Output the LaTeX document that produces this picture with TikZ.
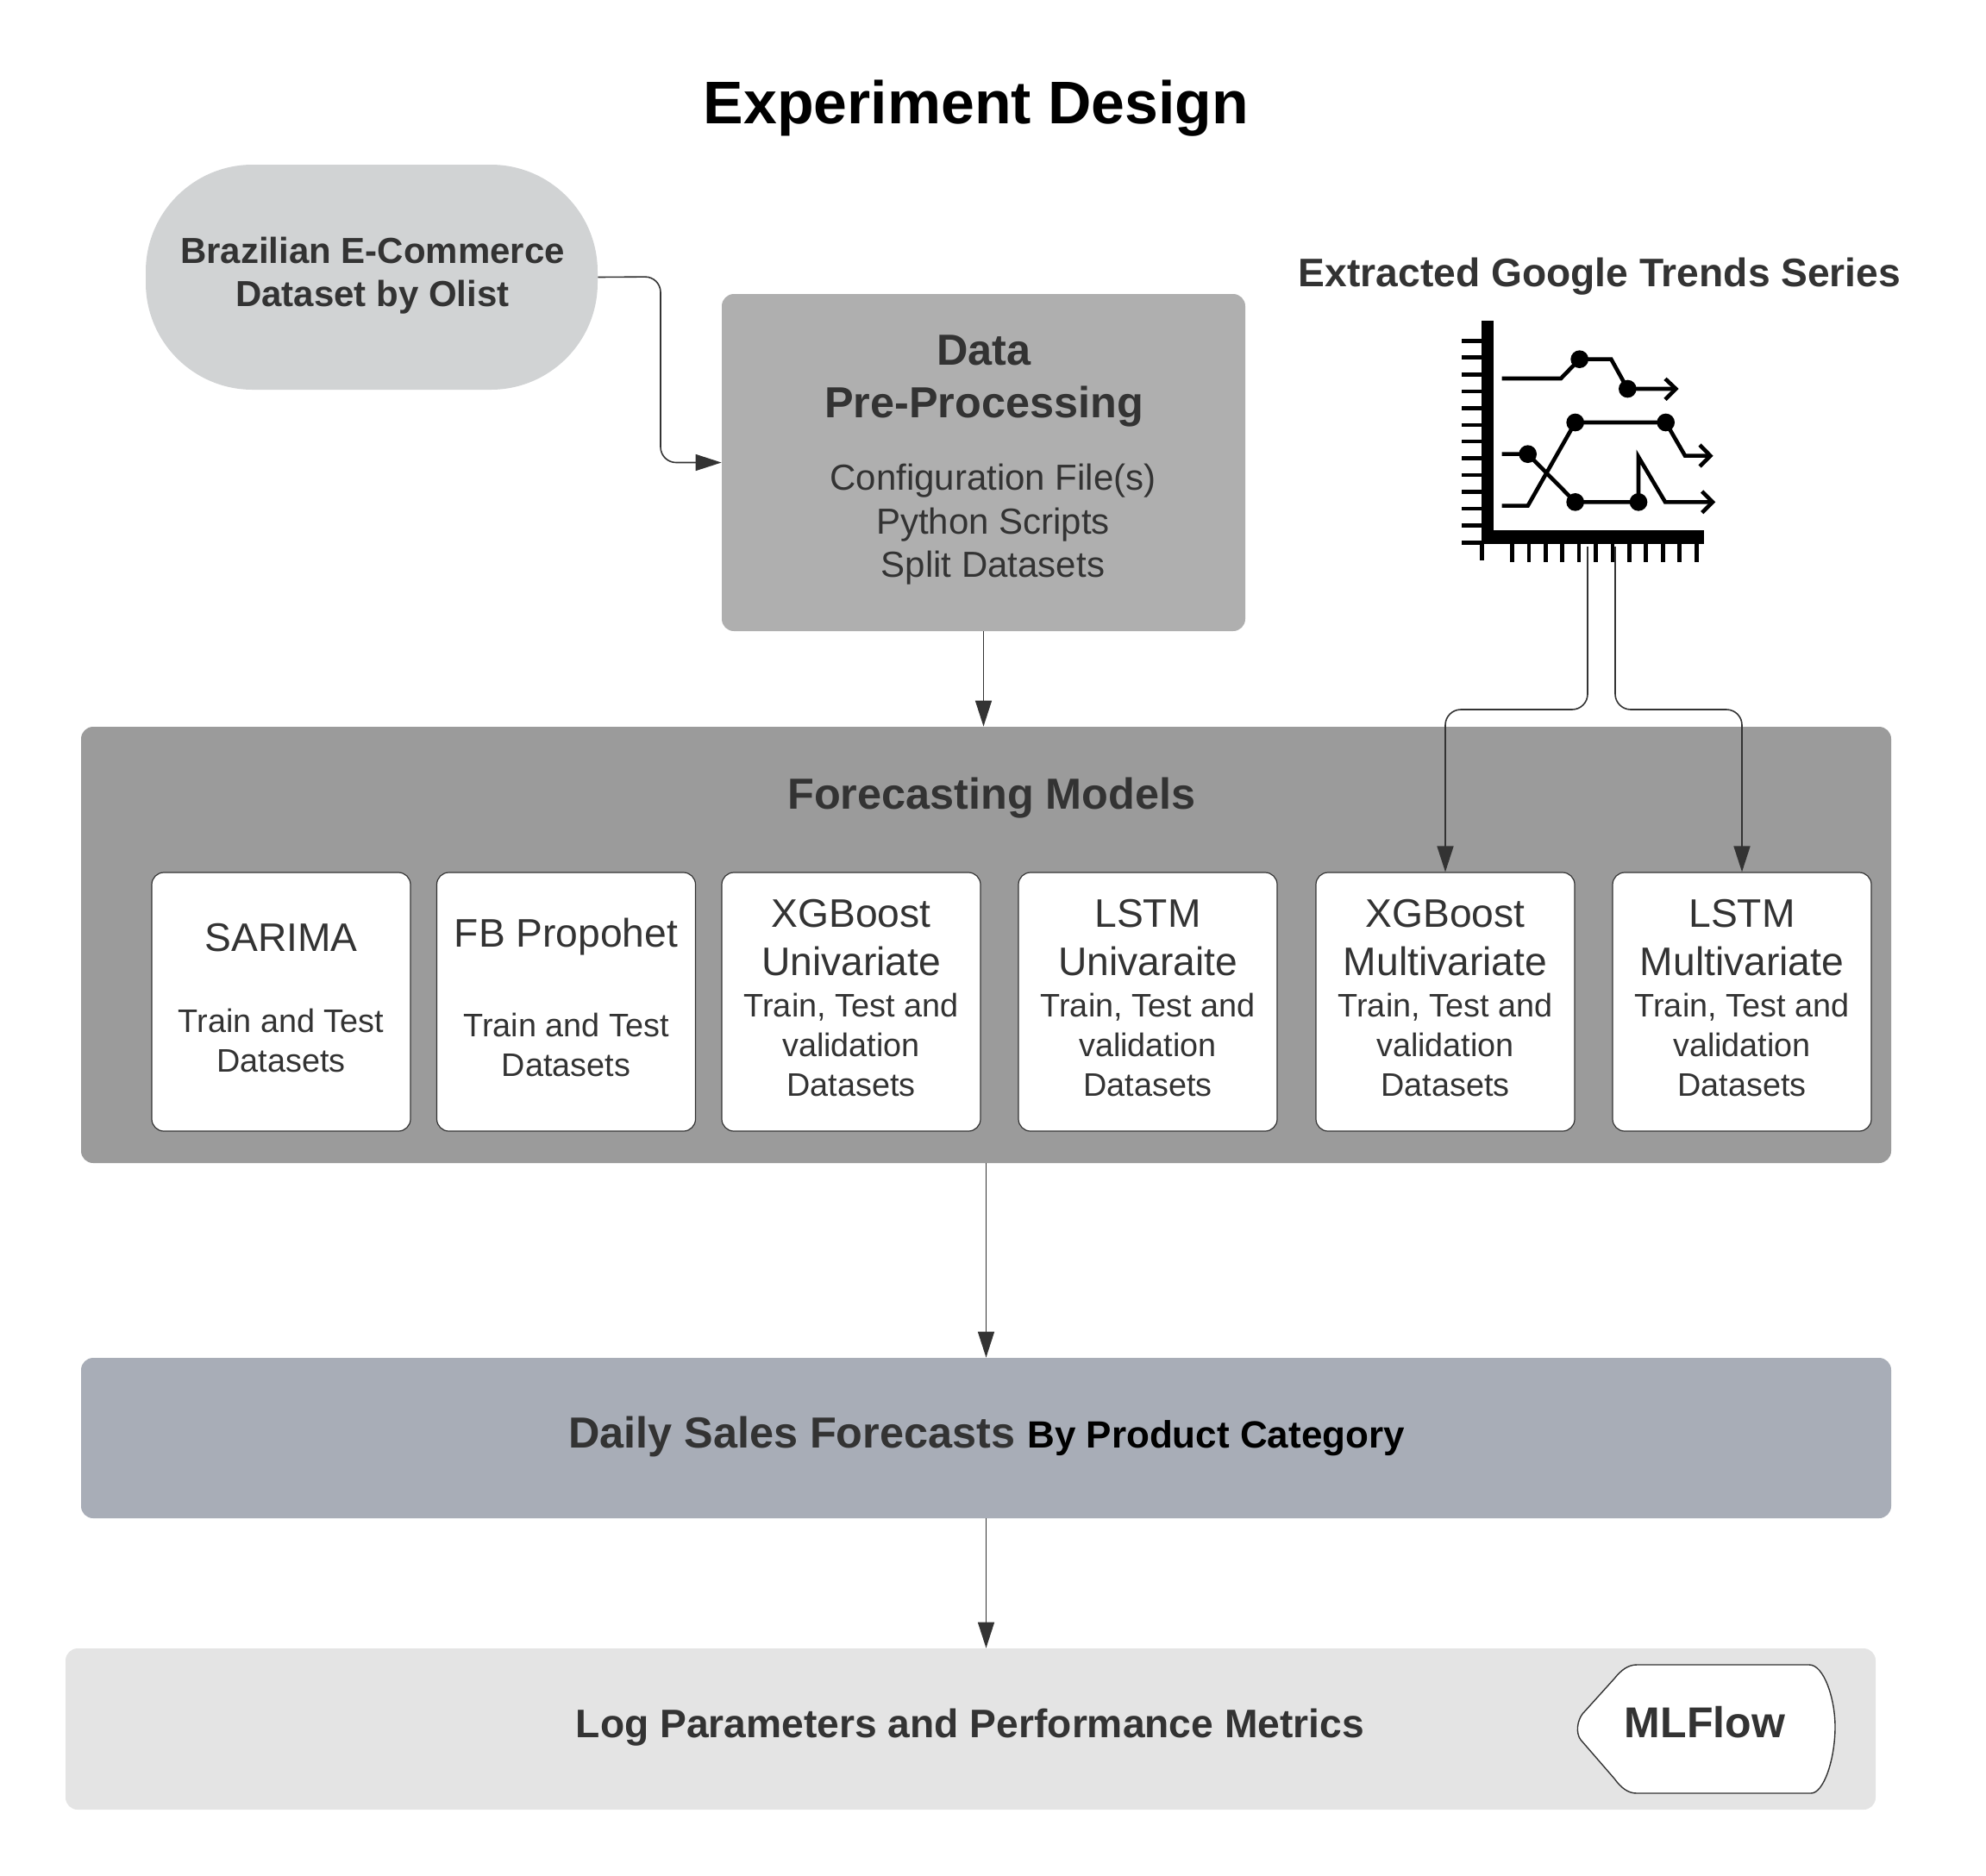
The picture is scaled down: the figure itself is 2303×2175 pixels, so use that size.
\documentclass[tikz,border=0pt]{standalone}
\usepackage{fontspec}
\setmainfont{Liberation Sans}
\usetikzlibrary{arrows.meta}
\definecolor{ink}{HTML}{333333}
\definecolor{pillgray}{HTML}{D1D3D4}
\definecolor{datagray}{HTML}{AFAFAF}
\definecolor{modelgray}{HTML}{9B9B9B}
\definecolor{salesblue}{HTML}{A8ADB7}
\definecolor{loggray}{HTML}{E4E4E4}
\tikzset{
    panel/.style={rectangle, rounded corners=7pt, inner sep=0pt},
    modelbox/.style={rectangle, rounded corners=7pt, draw=ink, line width=0.6pt, fill=white, minimum width=150pt, minimum height=150pt, inner sep=0pt},
    link/.style={draw=ink, line width=0.8pt, rounded corners=9pt, -{Triangle[length=15pt,width=9.5pt]}},
    txt/.style={text=ink, align=center, inner sep=0pt},
    headbig/.style={txt, font=\fontsize{25.2}{30.5}\selectfont\bfseries},
    headmid/.style={txt, font=\fontsize{23.1}{27}\selectfont\bfseries},
    modelname/.style={txt, font=\fontsize{23.1}{28}\selectfont},
    modelsets/.style={txt, font=\fontsize{18.9}{23}\selectfont},
    stroke/.style={line width=2.3pt, black},
}
\begin{document}
\begin{tikzpicture}[x=0.5pt, y=-0.5pt]
    \useasboundingbox (0,0) rectangle (2303,2175);

    \node[inner sep=0pt, font=\fontsize{34.9}{42}\selectfont\bfseries] (title) at (1132,126) {Experiment Design};

    % top row
    \node[panel, rounded corners=62pt, fill=pillgray, minimum width=262pt, minimum height=130.5pt] (olist) at (431,321.5) {};
    \node[txt, font=\fontsize{21}{25}\selectfont\bfseries] (olisttext) at (432,320) {Brazilian E-Commerce\\Dataset by Olist};
    \node[panel, fill=datagray, minimum width=303.5pt, minimum height=195.5pt] (data) at (1140.5,536.5) {};
    \node[headbig] (datahead) at (1141,442) {Data\\Pre-Processing};
    \node[txt, font=\fontsize{21}{25.3}\selectfont] (datatext) at (1151.5,608.5) {Configuration File(s)\\Python Scripts\\Split Datasets};
    \node[headmid] (trendshead) at (1855,320.5) {Extracted Google Trends Series};

    % trends icon
    \begin{scope}[shift={(1650,340)}, x=0.16667pt, y=-0.16667pt]
        \fill[black] (203,95) rectangle (247,872);
        \fill[black] (203,825) rectangle (978,872);
        \foreach \ty in {166,224,283,342,400,459,516,574,633,691,750,808,868}
            \draw[stroke] (135,\ty) -- (203,\ty);
        \draw[stroke] (205,870) -- (205,930);
        \foreach \tx in {310,369,427,485,543,602,660,718,776,835,893,952}
            \draw[stroke] (\tx,870) -- (\tx,935);
        \draw[stroke] (275,297) -- (480,297) -- (545,230) -- (655,230) -- (712,333) -- (880,333);
        \draw[stroke] (843,298) -- (880,333) -- (843,370);
        \draw[stroke] (275,740) -- (365,740) -- (530,450) -- (845,450) -- (912,566) -- (1000,566);
        \draw[stroke] (963,528) -- (1000,566) -- (963,603);
        \draw[stroke] (275,560) -- (365,560) -- (530,727) -- (750,727) -- (750,570) -- (843,727) -- (1008,727);
        \draw[stroke] (971,690) -- (1008,727) -- (971,764);
        \foreach \dx/\dy in {545/230,712/333,530/450,845/450,365/560,530/727,750/727}
            \fill[black] (\dx,\dy) circle (31);
    \end{scope}
    \coordinate (trendsleft) at (1841,634);
    \coordinate (trendsright) at (1873,634);

    % forecasting models
    \node[panel, fill=modelgray, minimum width=1049.5pt, minimum height=253pt] (models) at (1143.5,1096) {};
    \node[headbig] (modelshead) at (1150,926) {Forecasting Models};
    \node[modelbox] (sarima) at (326,1162) {};
    \node[modelbox] (prophet) at (656.5,1162) {};
    \node[modelbox] (xgbuni) at (987,1162) {};
    \node[modelbox] (lstmuni) at (1331,1162) {};
    \node[modelbox] (xgbmulti) at (1676,1162) {};
    \node[modelbox] (lstmmulti) at (2020,1162) {};
    \node[modelname] (sarimaname) at (326,1088) {SARIMA};
    \node[modelsets] (sarimasets) at (326,1206.5) {Train and Test\\Datasets};
    \node[modelname] (prophetname) at (656.5,1087) {FB Propohet};
    \node[modelsets] (prophetsets) at (656.5,1211.5) {Train and Test\\Datasets};
    \node[modelname] (xgbuniname) at (987,1088) {XGBoost\\Univariate};
    \node[modelsets] (xgbunisets) at (987,1211.5) {Train, Test and\\validation\\Datasets};
    \node[modelname] (lstmuniname) at (1331,1088) {LSTM\\Univaraite};
    \node[modelsets] (lstmunisets) at (1331,1211.5) {Train, Test and\\validation\\Datasets};
    \node[modelname] (xgbmultiname) at (1676,1088) {XGBoost\\Multivariate};
    \node[modelsets] (xgbmultisets) at (1676,1211.5) {Train, Test and\\validation\\Datasets};
    \node[modelname] (lstmmultiname) at (2020,1088) {LSTM\\Multivariate};
    \node[modelsets] (lstmmultisets) at (2020,1211.5) {Train, Test and\\validation\\Datasets};

    % bottom bands
    \node[panel, fill=salesblue, minimum width=1049.5pt, minimum height=93pt] (sales) at (1143.5,1668) {};
    \node[headbig] (salestext) at (1144,1666) {Daily Sales Forecasts {\color{black}\fontsize{22}{26}\selectfont By Product Category}};
    \node[panel, fill=loggray, minimum width=1049.5pt, minimum height=93.5pt] (logband) at (1125.5,2005.5) {};
    \node[headmid] (logtext) at (1125,2003.5) {Log Parameters and Performance Metrics};
    \draw[draw=ink, line width=0.7pt, fill=white] (1835,1988) -- (1872,1947) .. controls (1880,1937) and (1888,1931) .. (1898,1931) -- (2098,1931) .. controls (2115,1931) and (2128,1970) .. (2128,2003) .. controls (2128,2040) and (2115,2080) .. (2100,2080) -- (1898,2080) .. controls (1888,2080) and (1880,2074) .. (1872,2063) -- (1833,2018) .. controls (1827,2010) and (1829,1996) .. (1835,1988) -- cycle;
    \node[txt, font=\fontsize{25}{30}\selectfont\bfseries] (mlflow) at (1977,1998) {MLFlow};

    % connectors
    \coordinate (elbow) at (766,321);
    \draw[link] (olist.east) -- (elbow) -- (elbow |- data.west) -- (data.west);
    \draw[link] (data.south) -- (data.south |- models.north);
    \draw[link] (models.south) -- (sales.north);
    \draw[link] (sales.south) -- (sales.south |- logband.north);
    \draw[link] (trendsleft) -- (1841,823) -- (1676,823) -- (xgbmulti.north);
    \draw[link] (trendsright) -- (1873,823) -- (2020,823) -- (lstmmulti.north);
\end{tikzpicture}
\end{document}
